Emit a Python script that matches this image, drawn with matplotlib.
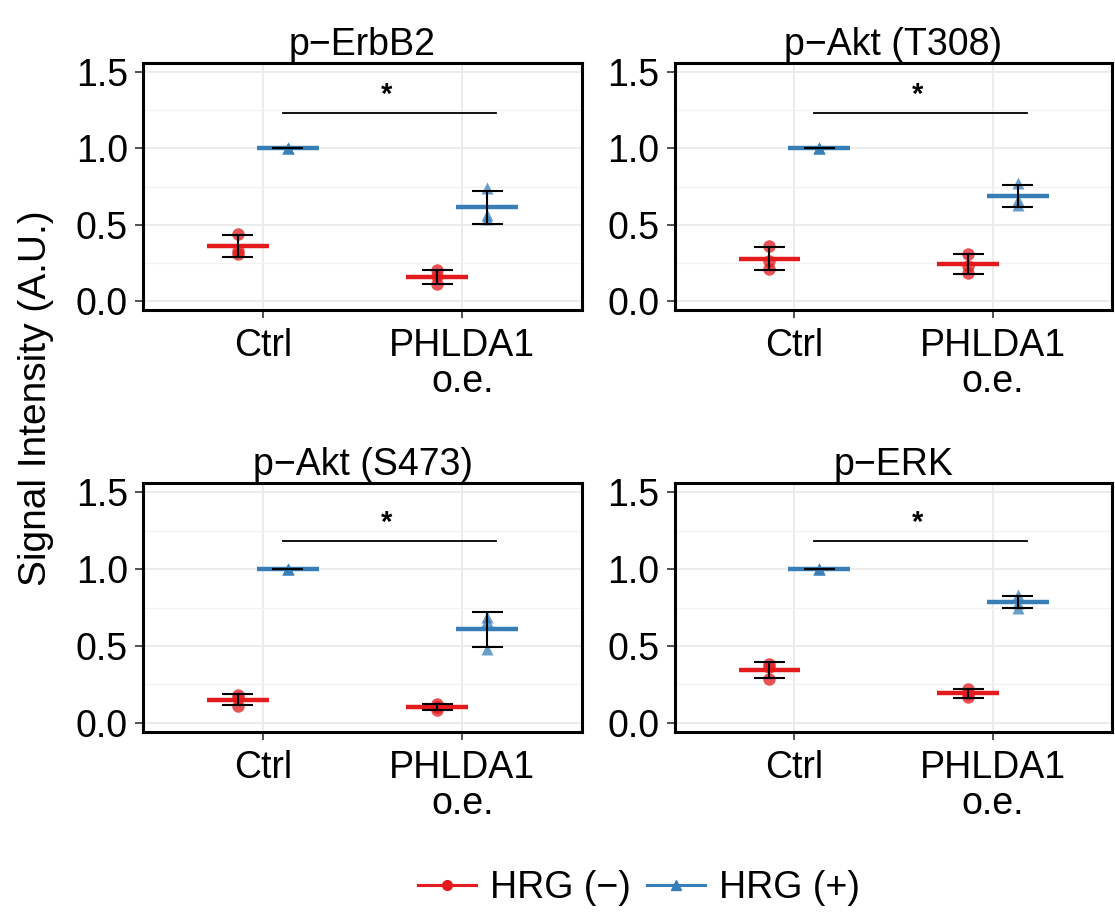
import numpy as np
import matplotlib.pyplot as plt
from matplotlib.lines import Line2D

plt.rcParams['font.family'] = ['Liberation Sans', 'DejaVu Sans']

titles = ['p\u2212ErbB2', 'p\u2212Akt (T308)', 'p\u2212Akt (S473)', 'p\u2212ERK']
groups = ['Ctrl', 'PHLDA1\no.e.']

# replicate values per panel: [group][treatment] -> points
hrg_minus = [
    [[0.44, 0.33, 0.31], [0.20, 0.16, 0.11]],
    [[0.36, 0.26, 0.21], [0.31, 0.23, 0.18]],
    [[0.18, 0.16, 0.11], [0.125, 0.10, 0.085]],
    [[0.385, 0.365, 0.285], [0.22, 0.19, 0.165]],
]
hrg_plus = [
    [[1.0, 1.0, 1.0], [0.74, 0.56, 0.54]],
    [[1.0, 1.0, 1.0], [0.77, 0.66, 0.63]],
    [[1.0, 1.0, 1.0], [0.48, 0.66, 0.69]],
    [[1.0, 1.0, 1.0], [0.83, 0.78, 0.75]],
]
sig_y = [1.235, 1.235, 1.18, 1.18]
star_y = [1.35, 1.35, 1.30, 1.30]

red = '#E41A1C'
blue = '#377EB8'

fig = plt.figure(figsize=(11.15, 9.18), dpi=100)
pos = [
    [0.1283, 0.6623, 0.3937, 0.269],
    [0.6054, 0.6623, 0.392, 0.269],
    [0.1283, 0.2026, 0.3937, 0.2712],
    [0.6054, 0.2026, 0.392, 0.2712],
]

for i in range(4):
    ax = fig.add_axes(pos[i])
    ax.set_xlim(0.4, 2.6)
    ax.set_ylim(-0.06, 1.56)
    ax.set_yticks([0, 0.5, 1.0, 1.5])
    ax.set_yticks([0.25, 0.75, 1.25], minor=True)
    ax.set_xticks([1, 2])
    ax.set_xticklabels(groups, linespacing=1.0)
    ax.grid(True, which='major', color='#EBEBEB', lw=1.3, zorder=0)
    ax.grid(True, which='minor', axis='y', color='#F2F2F2', lw=0.9, zorder=0)
    ax.set_axisbelow(True)
    for s in ax.spines.values():
        s.set_linewidth(2.2)
        s.set_color('black')
    ax.tick_params(axis='both', which='major', labelsize=27, length=6, width=1.2,
                   color='#333333', labelcolor='black', pad=5)
    ax.tick_params(axis='x', which='major', pad=7)
    ax.tick_params(axis='both', which='minor', length=0)
    ax.set_title(titles[i], fontsize=27, pad=6)

    for vals, off, col, mk in [(hrg_minus[i], -0.125, red, 'o'), (hrg_plus[i], 0.125, blue, '^')]:
        for g in range(2):
            x = g + 1 + off
            pts = np.array(vals[g])
            m = pts.mean()
            sd = pts.std(ddof=1)
            ax.plot([x] * len(pts), pts, ls='none', marker=mk, ms=9, color=col, alpha=0.75,
                    mec='none', zorder=3)
            ax.hlines(m, x - 0.155, x + 0.155, color=col, lw=3.2, zorder=4)
            ax.vlines(x, m - sd, m + sd, color='black', lw=1.5, zorder=5)
            ax.hlines([m - sd, m + sd], x - 0.078, x + 0.078, color='black', lw=1.5, zorder=5)

    ax.plot([1.10, 2.17], [sig_y[i], sig_y[i]], color='black', lw=1.3, zorder=5)
    ax.text(1.62, star_y[i], '*', fontsize=21, ha='center', va='center', fontweight='bold')

fig.text(0.032, 0.566, 'Signal Intensity (A.U.)', rotation=90, fontsize=28,
         ha='center', va='center')

handles = [
    Line2D([], [], color=red, marker='o', ms=7, lw=2.2, label='HRG (\u2212)'),
    Line2D([], [], color=blue, marker='^', ms=7, lw=2.2, label='HRG (+)'),
]
fig.legend(handles=handles, loc='center', bbox_to_anchor=(0.573, 0.033), ncol=2,
           frameon=False, fontsize=27, handlelength=1.55, handletextpad=0.35,
           columnspacing=0.45)

fig.savefig('out.png', dpi=100)
